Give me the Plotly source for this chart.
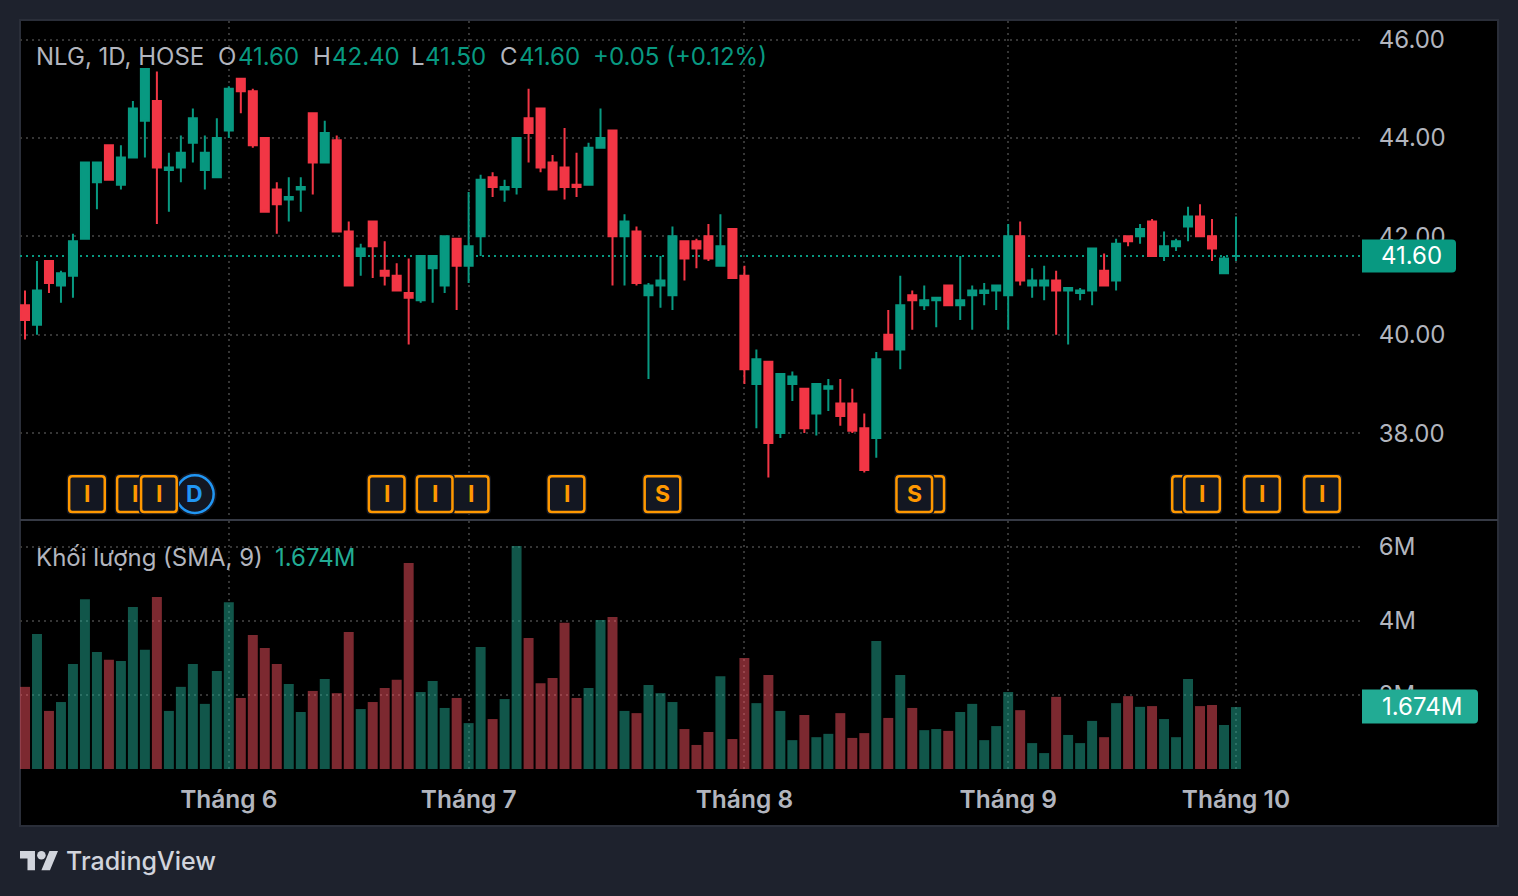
import plotly.graph_objects as go

W, H = 1518, 896
FONT = "Inter"

# ---------- data ----------
opens = [40.6,40.2,41.5,41.0,41.2,41.95,43.1,43.85,43.05,43.6,44.35,44.75,43.35,43.4,43.9,43.35,43.2,44.15,45.2,44.95,
         44.0,42.95,42.75,42.95,44.5,43.5,43.95,42.1,41.6,42.3,41.3,41.2,40.85,40.7,41.35,41.0,41.95,41.4,42.0,43.2,
         42.95,43.0,44.4,44.6,43.5,43.4,43.05,43.05,43.8,44.15,42.0,42.1,40.8,41.0,40.8,41.9,41.9,42.0,41.4,42.15,
         41.2,39.0,39.45,38.0,39.0,38.9,38.4,38.9,38.6,38.6,38.1,37.9,40.0,39.7,40.8,40.6,40.7,41.0,40.6,40.8,
         40.85,40.9,40.8,42.0,41.0,41.0,41.1,40.9,40.85,40.9,41.3,41.1,42.0,42.0,42.3,41.6,41.8,42.2,42.4,42.0,
         41.25,41.6]
highs = [40.9,41.5,41.5,41.3,42.05,43.5,43.5,43.85,43.85,44.75,45.4,45.35,43.7,44.05,44.6,44.05,44.4,45.05,45.2,45.0,
         44.0,43.1,43.2,43.2,44.5,44.35,44.05,42.3,41.85,42.3,41.9,41.45,41.55,41.6,41.6,42.0,41.95,42.9,43.25,43.3,
         43.15,44.0,45.0,44.6,43.65,44.2,43.7,43.9,44.6,44.15,42.45,42.2,41.05,41.6,42.2,41.9,41.95,42.25,42.45,42.15,
         41.4,39.7,39.45,39.2,39.25,38.9,39.0,39.1,39.1,38.9,38.4,39.65,40.5,41.2,40.9,41.0,40.75,41.0,41.6,41.0,
         41.05,41.0,42.25,42.3,41.35,41.4,41.3,40.95,40.95,41.75,41.65,41.95,42.0,42.25,42.35,42.1,41.95,42.6,42.65,42.35,
         41.6,42.4]
lows = [39.9,40.0,40.85,40.65,40.75,41.95,42.55,43.15,42.95,43.6,43.6,42.25,42.5,43.1,43.5,42.95,43.2,44.0,44.5,43.8,
        42.5,42.05,42.3,42.5,42.85,43.5,42.1,41.0,41.2,41.15,41.0,40.9,39.8,40.65,40.65,40.85,40.5,41.05,41.6,42.8,
        42.7,42.85,43.5,43.3,42.95,42.75,42.8,43.05,43.8,41.0,41.0,41.0,39.1,40.55,40.5,41.1,41.35,41.5,41.4,41.15,
        39.0,38.1,37.1,37.9,38.65,38.0,37.95,38.45,38.15,38.0,37.2,37.5,39.7,39.3,40.1,40.5,40.15,40.6,40.3,40.1,
        40.6,40.5,40.1,41.0,40.75,40.7,40.0,39.8,40.7,40.6,41.0,40.9,41.8,41.85,41.6,41.5,41.7,41.9,42.0,41.5,
        41.25,41.5]
closes = [40.3,40.9,41.05,41.25,41.9,43.5,43.5,43.15,43.6,44.6,45.4,43.4,43.4,43.7,44.4,43.7,44.0,45.0,44.95,43.85,
          42.5,42.65,42.8,43.0,43.5,44.1,42.1,41.0,41.75,41.8,41.2,40.9,40.75,41.6,41.6,42.0,41.4,41.8,43.15,43.0,
          43.0,44.0,44.1,43.4,42.95,43.0,43.0,43.8,44.0,42.0,42.3,41.05,41.0,41.1,42.0,41.55,41.75,41.55,41.8,41.15,
          39.3,39.5,37.8,39.2,39.15,38.1,39.0,38.95,38.35,38.05,37.25,39.5,39.7,40.6,40.7,40.7,40.75,40.6,40.7,40.9,
          40.9,41.0,42.0,41.1,41.1,41.1,40.9,40.95,40.9,41.75,41.0,41.85,41.9,42.15,41.6,41.8,41.9,42.4,42.0,41.75,
          41.55,41.6]
volumes = [2.22,3.65,1.57,1.81,2.84,4.59,3.16,2.95,2.92,4.38,3.22,4.65,1.57,2.22,2.84,1.76,2.65,4.51,1.92,3.62,
           3.27,2.84,2.30,1.54,2.11,2.43,2.05,3.70,1.62,1.81,2.19,2.41,5.57,2.08,2.38,1.65,1.92,1.24,3.30,1.35,
           1.89,6.03,3.54,2.32,2.46,3.95,1.92,2.19,4.03,4.11,1.57,1.51,2.27,2.05,1.81,1.08,0.65,1.00,2.51,0.81,
           3.00,1.78,2.54,1.57,0.78,1.46,0.86,0.95,1.51,0.84,0.97,3.46,1.38,2.54,1.65,1.05,1.08,1.03,1.54,1.76,
           0.78,1.16,2.08,1.59,0.70,0.43,1.95,0.92,0.70,1.30,0.86,1.78,1.97,1.68,1.70,1.35,0.86,2.43,1.70,1.73,
           1.19,1.674]
month_bars = [17, 37, 60, 82, 101]
month_labels = ["Tháng 6", "Tháng 7", "Tháng 8", "Tháng 9", "Tháng 10"]
price_ticks = [38, 40, 42, 44, 46]
volume_ticks = [2, 4, 6]
volume_tick_labels = ["2M", "4M", "6M"]
# drawing order runs back to front
event_bars = [14, 5, 9, 11, 37, 34, 30, 45, 53, 75, 74, 97, 98, 103, 108]
event_labels = ["D", "I", "I", "I", "I", "I", "I", "I", "S", "", "S", "", "I", "I", "I"]
event_price = 36.76

# ---------- colours ----------
GREEN, RED = "#089981", "#F23645"
VOL_GREEN, VOL_RED = "rgba(34,171,148,0.5)", "rgba(247,82,95,0.5)"
TEAL = "#22AB94"
TEXT = "#B2B5BE"
GRID = "#363636"
ORANGE, BLUE, MARKER_BG = "#FF9800", "#2196F3", "#131722"
PAGE, BORDER = "#1E222D", "#2A2E39"

px = lambda x: x / W
py = lambda y: 1 - y / H

# bar spacing on screen, used for the axis window
STEP, X0 = 11.99, 25
x_range = [(20 - X0) / STEP, (1361 - X0) / STEP]

n = len(closes)
bars = list(range(n))
vol_colors = [VOL_GREEN if closes[i] >= opens[i] else VOL_RED for i in bars]
change = closes[-1] - closes[-2]
pct = change / closes[-2] * 100

fig = go.Figure()
fig.add_trace(go.Candlestick(
    x=bars, open=opens, high=highs, low=lows, close=closes,
    increasing=dict(line=dict(color=GREEN, width=2), fillcolor=GREEN),
    decreasing=dict(line=dict(color=RED, width=2), fillcolor=RED),
    whiskerwidth=0, xaxis="x", yaxis="y", showlegend=False, hoverinfo="skip",
))
fig.add_trace(go.Bar(
    x=bars, y=volumes, width=0.83, marker=dict(color=vol_colors, line=dict(width=0)),
    xaxis="x2", yaxis="y2", showlegend=False, hoverinfo="skip",
))

shapes = []
annos = []

# panel and separators
shapes.append(dict(type="rect", xref="paper", yref="paper", layer="below",
                   x0=px(20), x1=px(1498), y0=py(20), y1=py(826),
                   fillcolor="#000000", line=dict(color=BORDER, width=2)))
shapes.append(dict(type="line", xref="paper", yref="paper", layer="above",
                   x0=px(20), x1=px(1498), y0=py(520), y1=py(520),
                   line=dict(color="#363A45", width=2)))
# last price line
shapes.append(dict(type="line", xref="paper", yref="y", layer="below",
                   x0=px(20), x1=px(1361), y0=closes[-1], y1=closes[-1],
                   line=dict(color=GREEN, width=2, dash="2px,4px")))


def rr(x0, x1, y0, y1, r):
    return (f"M{x0+r},{y0} L{x1-r},{y0} Q{x1},{y0} {x1},{y0+r} L{x1},{y1-r} Q{x1},{y1} {x1-r},{y1} "
            f"L{x0+r},{y1} Q{x0},{y1} {x0},{y1-r} L{x0},{y0+r} Q{x0},{y0} {x0+r},{y0} Z")


def tag(x_px, width, yref, value, color, label, lift=0, text_dx=0):
    t, b = 16.5 + lift, -16.5
    path = (f"M0,{b} L{width-4},{b} Q{width},{b} {width},{b+4} L{width},{t-4} "
            f"Q{width},{t} {width-4},{t} L0,{t} Z")
    shapes.append(dict(type="path", layer="above", xref="paper", yref=yref,
                       xsizemode="pixel", ysizemode="pixel", xanchor=px(x_px), yanchor=value,
                       path=path, fillcolor=color, line=dict(width=0)))
    annos.append(dict(xref="paper", yref=yref, x=px(x_px + width / 2 + text_dx), y=value, text=label,
                      yshift=lift / 2, showarrow=False, xanchor="center", yanchor="middle",
                      font=dict(family=FONT, size=24, color="#FFFFFF")))


# event markers
for b, lab in zip(event_bars, event_labels):
    if lab == "D":
        for extra, fill, col, w in [(2.5, MARKER_BG, MARKER_BG, 1), (0, MARKER_BG, BLUE, 2.5)]:
            shapes.append(dict(type="circle", layer="above", xref="x", yref="y",
                               xsizemode="pixel", ysizemode="pixel", xanchor=b, yanchor=event_price,
                               x0=2 - 18.8 - extra, x1=2 + 18.8 + extra, y0=-18.8 - extra, y1=18.8 + extra,
                               fillcolor=fill, line=dict(color=col, width=w)))
    else:
        shapes.append(dict(type="path", layer="above", xref="x", yref="y",
                           xsizemode="pixel", ysizemode="pixel", xanchor=b, yanchor=event_price,
                           path=rr(2 - 20.2, 2 + 20.2, -20.2, 20.2, 4),
                           fillcolor=MARKER_BG, line=dict(width=0)))
        shapes.append(dict(type="path", layer="above", xref="x", yref="y",
                           xsizemode="pixel", ysizemode="pixel", xanchor=b, yanchor=event_price,
                           path=rr(2 - 17.8, 2 + 17.8, -17.8, 17.8, 3),
                           fillcolor=MARKER_BG, line=dict(color=ORANGE, width=2.5)))
    if lab:
        annos.append(dict(xref="x", yref="y", x=b + 0.17, y=event_price, text=f"<b>{lab}</b>",
                          showarrow=False, xanchor="center", yanchor="middle",
                          font=dict(family=FONT, size=23, color=BLUE if lab == "D" else ORANGE)))

tag(1362, 94, "y", closes[-1], GREEN, f"{closes[-1]:.2f}", text_dx=2)
tag(1362, 116, "y2", volumes[-1], TEAL, f"{volumes[-1]:.3f}M", lift=1, text_dx=2)


def legend(x_px, y_px, text, color):
    annos.append(dict(xref="paper", yref="paper", x=px(x_px), y=py(y_px), text=text,
                      showarrow=False, xanchor="left", yanchor="middle", borderpad=0,
                      font=dict(family=FONT, size=24, color=color)))


legend(35, 56, "NLG, 1D, HOSE", TEXT)
for x_l, lab, x_v, v in [(217, "O", 237, opens[-1]), (312, "H", 331, highs[-1]),
                         (410, "L", 424, lows[-1]), (499, "C", 518, closes[-1])]:
    legend(x_l, 56, lab, TEXT)
    legend(x_v, 56, f"{v:.2f}", GREEN)
legend(592, 56, f"{change:+.2f} ({pct:+.2f}%)", GREEN)
legend(35, 557, "Khối lượng (SMA, 9)", TEXT)
legend(274, 557, f"{volumes[-1]:.3f}M", TEAL)

# footer brand
LX, LY, LS = 20, 846.7, 1.07
lp = lambda a, b: f"{px(LX + a * LS):.6f},{py(LY + b * LS):.6f}"
logo = (f"M{lp(14,22)} L{lp(7,22)} L{lp(7,11)} L{lp(0,11)} L{lp(0,4)} L{lp(14,4)} Z "
        f"M{lp(28,22)} L{lp(20,22)} L{lp(27.5,4)} L{lp(35.5,4)} Z")
shapes.append(dict(type="path", xref="paper", yref="paper", path=logo, fillcolor="#D1D4DC", line=dict(width=0)))
shapes.append(dict(type="circle", xref="paper", yref="paper",
                   x0=px(LX + 16 * LS), x1=px(LX + 24 * LS), y0=py(LY + 12 * LS), y1=py(LY + 4 * LS),
                   fillcolor="#D1D4DC", line=dict(width=0)))
annos.append(dict(xref="paper", yref="paper", x=px(64), y=py(861), text="TradingView", showarrow=False,
                  xanchor="left", yanchor="middle", font=dict(family=FONT, size=25, color="#D1D4DC", weight=500)))

grid = dict(showgrid=True, gridcolor=GRID, gridwidth=2, griddash="2px,4px", zeroline=False, showline=False)
tickfont = dict(family=FONT, size=24, color=TEXT)

fig.update_layout(
    width=W, height=H, autosize=False, margin=dict(l=0, r=0, t=0, b=0, pad=0),
    paper_bgcolor=PAGE, plot_bgcolor="rgba(0,0,0,0)",
    font=dict(family=FONT), boxgap=0.33, boxgroupgap=0, barmode="overlay", hovermode=False,
    dragmode=False, showlegend=False, shapes=shapes, annotations=annos,
    xaxis=dict(domain=[px(20), px(1361)], range=x_range, anchor="y", rangeslider=dict(visible=False),
               tickmode="array", tickvals=month_bars, showticklabels=False, ticks="", **grid),
    xaxis2=dict(domain=[px(20), px(1361)], range=x_range, anchor="y2", matches="x",
                tickmode="array", tickvals=month_bars, ticktext=month_labels,
                ticks="outside", ticklen=9, tickcolor="rgba(0,0,0,0)",
                tickfont=dict(family=FONT, size=24.5, color=TEXT, weight=600), **grid),
    yaxis=dict(domain=[py(519), py(21)], range=[46 - (519 - 39.5) / 49.2, 46 + (39.5 - 21) / 49.2], anchor="x",
               side="right", tickmode="array", tickvals=price_ticks,
               ticktext=[f"{t:.2f}" for t in price_ticks], ticks="outside", ticklen=12,
               tickcolor="rgba(0,0,0,0)", tickfont=tickfont, **grid),
    yaxis2=dict(domain=[py(769), py(521)], range=[0, (769 - 521) / 37], anchor="x2",
                side="right", tickmode="array", tickvals=volume_ticks, ticktext=volume_tick_labels,
                ticks="outside", ticklen=12, tickcolor="rgba(0,0,0,0)", tickfont=tickfont, **grid),
)

fig.write_html("out.html", config=dict(displayModeBar=False),
               post_script="document.body.style.margin='0';document.body.style.background='#1E222D';"
                           "document.documentElement.style.overflow='hidden';")
